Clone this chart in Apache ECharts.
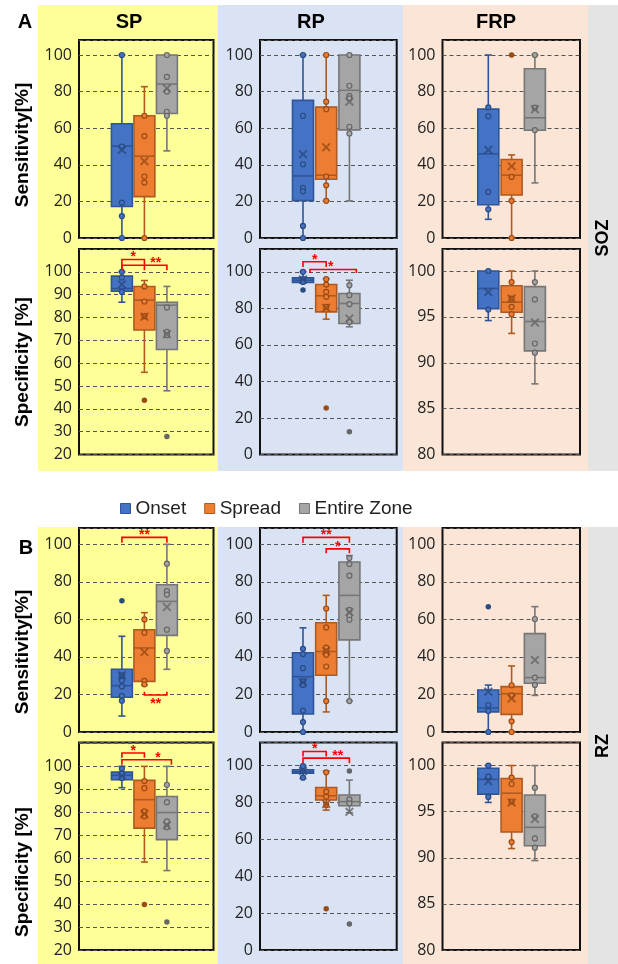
<!DOCTYPE html>
<html><head><meta charset="utf-8">
<script src="https://cdn.jsdelivr.net/npm/echarts@6/dist/echarts.min.js"></script>
<style>html,body{margin:0;padding:0;background:#fff}#c{width:618px;height:964px}</style>
</head><body><div id="c"></div>
<script>
// ---------- DATA ----------
const groups = ['Onset', 'Spread', 'Entire Zone'];
// box arrays: per group [lower whisker, Q1, median, Q3, upper whisker]
// SOZ - SP
const sozSpSensBox = [[0,17.2,50.2,62.4,100],[0,22.6,44.7,66.8,82.7],[47.6,68,84.1,100,100]];
const sozSpSensMean = [48.2,42,81.8];
const sozSpSensPts = [[100,50,19.3,12,0],[66.8,55.7,33.6,30.3,0],[100,88,80,69,66.8]];
const sozSpSensOut = [[],[],[]];
const sozSpSpecBox = [[86.7,91.5,92.7,98.1,100],[56,74.5,87.6,93.6,96.2],[47.9,66,85.4,86.7,93.6]];
const sozSpSpecMean = [94.5,80.3,72.7];
const sozSpSpecPts = [[100,97.5,91.2],[93.6,87,80.6],[84.4,73.7,72.3]];
const sozSpSpecOut = [[],[43.8],[27.9]];
// SOZ - RP
const sozRpSensBox = [[0,20.4,33.9,75.2,100],[20.3,32.1,34.3,71.5,100],[20.3,59.1,80.7,100,100]];
const sozRpSensMean = [45.8,49.6,74.5];
const sozRpSensPts = [[100,66.8,40.3,27.4,25.5,6.6,0],[100,74.5,70.4,33.6,28.8,20.3],[100,83.2,77.7,76.3,60.8,57.1]];
const sozRpSensOut = [[],[],[]];
const sozRpSpecBox = [[94,94.2,95.4,96.7,100],[74.1,78.1,86.9,93.1,96.2],[69.9,71.7,82.7,88.1,95.4]];
const sozRpSpecMean = [95.8,80.3,74.5];
const sozRpSpecPts = [[100,96,94.5],[96,93,89,86.3,80.8],[92.7,87.2,82.3,72.6]];
const sozRpSpecOut = [[90],[25.5],[12.4]];
// SOZ - FRP
const sozFrpSensBox = [[10.2,18.2,46,70.4,100],[0,23.5,34.3,42.9,45.4],[30.1,58.9,65.7,92.5,100]];
const sozFrpSensMean = [48.2,39.2,70.3];
const sozFrpSensPts = [[71.4,66.6,25.2,15.7],[33.4,20.3,0],[100,71.2,59]];
const sozFrpSensOut = [[],[100],[]];
const sozFrpSpecBox = [[94.6,95.9,98.1,100,100],[93.2,95.5,96.6,98.4,100],[87.7,91.3,94.5,98.3,100]];
const sozFrpSpecMean = [97.7,97,94.4];
const sozFrpSpecPts = [[100,95.8],[98.8,97,96.1,95.3],[98.8,96.9,92.1,91.1]];
const sozFrpSpecOut = [[],[],[]];
// RZ - SP
const rzSpSensBox = [[8.5,18.5,24.7,33.4,51],[24.9,27,44.8,54.5,63.6],[33.4,51.5,69.6,78.5,100]];
const rzSpSensMean = [30.2,42.6,66.6];
const rzSpSensPts = [[30.2,27.4,24.3,19.2,16.7],[60,52.9,27.2,25.4],[89.7,75.1,73.2,54.5,43.2]];
const rzSpSensOut = [[70],[],[]];
const rzSpSpecBox = [[90.7,94.2,96.1,97.5,100],[58.3,73.1,85.5,93.9,100],[54.6,68.1,79.9,86.9,100]];
const rzSpSpecMean = [95.8,79.3,74.3];
const rzSpSpecPts = [[99,96.8,94.9],[93.6,90.5,80.4,78.3],[92,84.4,76,73.5]];
const rzSpSpecOut = [[],[39.8],[32.2]];
// RZ - RP
const rzRpSensBox = [[0,9.6,29.5,42.2,55.5],[10.7,30.2,42.9,58.2,72.8],[16.5,49.1,72.8,90.6,94]];
const rzRpSensMean = [26.5,43.2,63.9];
const rzRpSensPts = [[44.3,41.5,34,27,25.1,11.4,5.3,0],[65.8,55.7,45,42.9,41.1,34.9,16.5],[92.7,89.5,83.3,65.1,61.9,59.8,16.5]];
const rzRpSensOut = [[],[],[]];
const rzRpSpecBox = [[93.1,96,96.7,97.8,100],[75.9,81.4,83.7,88.2,97.1],[74.5,78.3,80.5,84.1,92.2]];
const rzRpSpecMean = [97.1,79.2,75];
const rzRpSpecPts = [[99.8,97,93.5],[96.4,85.9,83.2,78.7],[81.7,79.6]];
const rzRpSpecOut = [[],[22.4],[97.1,14.1]];
// RZ - FRP
const rzFrpSensBox = [[0,10.7,12.8,22.4,25],[0,9.4,20.4,24.2,35.2],[19.5,26,29,52.4,66.8]];
const rzFrpSensMean = [21.5,17.9,38.4];
const rzFrpSensPts = [[14.4,11.2,0],[24.9,19.5,5.7,0],[60.2,29,25.1]];
const rzFrpSensOut = [[66.8],[],[]];
const rzFrpSpecBox = [[96,96.9,98.5,99.7,100],[91,92.8,97,98.6,100],[89.7,91.3,93.3,96.8,100]];
const rzFrpSpecMean = [98.3,96,94.2];
const rzFrpSpecPts = [[100,98.8,96.6],[98.7,98,96.1,91.7],[97.6,94.5,92.1,91.1]];
const rzFrpSpecOut = [[],[],[]];

// significance brackets (group index from/to, bar level, leg end level, label, label position)
const sozSpSpecSig = [{from:0,to:1,y:105.4,leg:100.7,label:'*',at:0.5},{from:0,to:2,y:102.9,leg:100.7,label:'**',at:1.5}];
const sozRpSpecSig = [{from:0,to:1,y:105.5,leg:102.7,label:'*',at:0.5},{from:0.3,to:2.3,y:101.3,leg:99.3,label:'*',at:1.2}];
const rzSpSensSig = [{from:0,to:2,y:103.7,leg:100.9,label:'**',at:1},{from:1,to:2,y:19.7,leg:21.4,label:'**',at:1.5}];
const rzRpSensSig = [{from:0,to:2,y:103.7,leg:100.9,label:'**',at:1},{from:1,to:2,y:97.6,leg:95.2,label:'*',at:1.5}];
const rzSpSpecSig = [{from:0,to:1,y:105.8,leg:103.8,label:'*',at:0.5},{from:0,to:2.2,y:102.9,leg:100.7,label:'*',at:1.6}];
const rzRpSpecSig = [{from:0,to:1,y:107.7,leg:105,label:'*',at:0.5},{from:0,to:2,y:104.1,leg:101.4,label:'**',at:1.5}];

// ---------- STYLE / LAYOUT ----------
const FILL = ['#4472C4', '#ED7D31', '#A5A5A5'];
const EDGE = ['#2F5597', '#AE5A21', '#767676'];
const PT = ['#2A4A80', '#9A4A15', '#666666'];
const COLS = [
  {frameL:79, frameW:134.5, boxL:110.65, boxW:67.5},
  {frameL:260, frameW:136.7, boxL:291.4, boxW:69.6},
  {frameL:442.5, frameW:137.5, boxL:476.65, boxW:69.9}
];
const ROWS = [{top:40, h:198}, {top:249, h:205.5}, {top:528, h:204}, {top:742.5, h:207.5}];
const AX = {
  s0: {min:0, max:108.2, interval:20},
  s2: {min:0, max:108.7, interval:20},
  spA: {min:20, max:110, interval:10},
  spB: {min:20, max:110.4, interval:10},
  rpA: {min:0, max:112.5, interval:20},
  rpB: {min:0, max:112.6, interval:20},
  frA: {min:80, max:102.4, interval:5},
  frB: {min:80, max:102.5, interval:5}
};

const panels = [
  {row:0,col:0,ax:AX.s0,box:sozSpSensBox,mean:sozSpSensMean,pts:sozSpSensPts,out:sozSpSensOut},
  {row:0,col:1,ax:AX.s0,box:sozRpSensBox,mean:sozRpSensMean,pts:sozRpSensPts,out:sozRpSensOut},
  {row:0,col:2,ax:AX.s0,box:sozFrpSensBox,mean:sozFrpSensMean,pts:sozFrpSensPts,out:sozFrpSensOut},
  {row:1,col:0,ax:AX.spA,box:sozSpSpecBox,mean:sozSpSpecMean,pts:sozSpSpecPts,out:sozSpSpecOut,sig:sozSpSpecSig},
  {row:1,col:1,ax:AX.rpA,box:sozRpSpecBox,mean:sozRpSpecMean,pts:sozRpSpecPts,out:sozRpSpecOut,sig:sozRpSpecSig},
  {row:1,col:2,ax:AX.frA,box:sozFrpSpecBox,mean:sozFrpSpecMean,pts:sozFrpSpecPts,out:sozFrpSpecOut},
  {row:2,col:0,ax:AX.s2,box:rzSpSensBox,mean:rzSpSensMean,pts:rzSpSensPts,out:rzSpSensOut,sig:rzSpSensSig},
  {row:2,col:1,ax:AX.s2,box:rzRpSensBox,mean:rzRpSensMean,pts:rzRpSensPts,out:rzRpSensOut,sig:rzRpSensSig},
  {row:2,col:2,ax:AX.s2,box:rzFrpSensBox,mean:rzFrpSensMean,pts:rzFrpSensPts,out:rzFrpSensOut},
  {row:3,col:0,ax:AX.spB,box:rzSpSpecBox,mean:rzSpSpecMean,pts:rzSpSpecPts,out:rzSpSpecOut,sig:rzSpSpecSig},
  {row:3,col:1,ax:AX.rpB,box:rzRpSpecBox,mean:rzRpSpecMean,pts:rzRpSpecPts,out:rzRpSpecOut,sig:rzRpSpecSig},
  {row:3,col:2,ax:AX.frB,box:rzFrpSpecBox,mean:rzFrpSpecMean,pts:rzFrpSpecPts,out:rzFrpSpecOut}
];

const XMARK = 'path://M1.5,0 L5,3.5 L8.5,0 L10,1.5 L6.5,5 L10,8.5 L8.5,10 L5,6.5 L1.5,10 L0,8.5 L3.5,5 L0,1.5 Z';

function boxRender(params, api) {
  const i = api.value(0);
  const lo = api.coord([i, api.value(1)]);
  const q1 = api.coord([i, api.value(2)]);
  const md = api.coord([i, api.value(3)]);
  const q3 = api.coord([i, api.value(4)]);
  const hi = api.coord([i, api.value(5)]);
  const band = api.size([1, 0])[0];
  const bw = Math.min(21, band * 0.93);
  const cx = md[0];
  const cap = 3.5;
  const ls = {stroke: EDGE[i], lineWidth: 1.6};
  return {type:'group', children:[
    {type:'line', shape:{x1:cx,y1:hi[1],x2:cx,y2:q3[1]}, style:ls},
    {type:'line', shape:{x1:cx,y1:q1[1],x2:cx,y2:lo[1]}, style:ls},
    {type:'line', shape:{x1:cx-cap,y1:hi[1],x2:cx+cap,y2:hi[1]}, style:ls},
    {type:'line', shape:{x1:cx-cap,y1:lo[1],x2:cx+cap,y2:lo[1]}, style:ls},
    {type:'rect', shape:{x:cx-bw/2,y:q3[1],width:bw,height:q1[1]-q3[1]}, style:{fill:FILL[i], stroke:EDGE[i], lineWidth:1.6}},
    {type:'line', shape:{x1:cx-bw/2,y1:md[1],x2:cx+bw/2,y2:md[1]}, style:ls}
  ]};
}

function makeSigRender(list) {
  return function (params, api) {
    const b = list[params.dataIndex];
    const p0 = api.coord([0, b.y]);
    const p1 = api.coord([1, b.y]);
    const step = p1[0] - p0[0];
    const xa = p0[0] + b.from * step, xb = p0[0] + b.to * step;
    const yb = p0[1], yl = api.coord([0, b.leg])[1];
    const below = yl < yb;
    const tx = p0[0] + b.at * step;
    const ty = below ? yb + 9.5 : yb - 2;
    return {type:'group', children:[
      {type:'polyline', shape:{points:[[xa,yl],[xa,yb],[xb,yb],[xb,yl]]}, style:{stroke:'#FF0000', lineWidth:1.6, fill:null}},
      {type:'text', x:tx, y:ty, style:{text:b.label, fill:'#FF0000', font:'bold 14px "Liberation Sans"', align:'center', verticalAlign:'middle'}}
    ]};
  };
}

const option = {
  animation: false,
  grid: [], xAxis: [], yAxis: [], series: [],
  legend: {
    data: groups.map((g, i) => ({name: g, icon: 'rect', itemStyle: {color: FILL[i], borderColor: EDGE[i], borderWidth: 1}})),
    left: 115, top: 494, itemWidth: 10, itemHeight: 10, itemGap: 18, selectedMode: false,
    textStyle: {fontSize: 19, fontFamily: 'Liberation Sans', color: '#222'}
  },
  graphic: {elements: []}
};

panels.forEach((p) => {
  const c = COLS[p.col], r = ROWS[p.row], ax = p.ax;
  const gF = option.grid.length;
  option.grid.push({left:c.frameL, top:r.top, width:c.frameW, height:r.h, show:true, borderColor:'#111', borderWidth:2, backgroundColor:'transparent', containLabel:false, outerBoundsMode:'none'});
  option.grid.push({left:c.boxL, top:r.top, width:c.boxW, height:r.h, show:false, containLabel:false, outerBoundsMode:'none'});
  option.xAxis.push({gridIndex:gF, type:'category', data:[''], show:false});
  option.xAxis.push({gridIndex:gF+1, type:'category', data:groups, show:false, boundaryGap:true});
  option.yAxis.push({gridIndex:gF, type:'value', min:ax.min, max:ax.max, interval:ax.interval,
    axisLine:{show:false}, axisTick:{show:false},
    axisLabel:{margin:7, fontSize:16, color:'#222', fontFamily:'Open Sans', showMaxLabel:true,
      formatter: v => (v > 100.001 ? '' : String(Math.round(v)))},
    splitLine:{show:true, lineStyle:{type:[4,3], color:'#555', width:1}}});
  option.yAxis.push({gridIndex:gF+1, type:'value', min:ax.min, max:ax.max, show:false, splitLine:{show:false}});
  const xi = gF + 1, yi = gF + 1;
  option.series.push({type:'custom', name:'box', xAxisIndex:xi, yAxisIndex:yi, renderItem:boxRender,
    data:p.box.map((b, i) => [i].concat(b)), encode:{x:0, y:[1,2,3,4,5]}, z:2, silent:true});
  groups.forEach((g, i) => {
    option.series.push({type:'scatter', name:g, xAxisIndex:xi, yAxisIndex:yi, data:p.pts[i].map(v => [i, v]),
      symbol:'circle', symbolSize:5, itemStyle:{color:FILL[i], borderColor:PT[i], borderWidth:1.2, opacity:1}, z:3, silent:true});
    if (p.out[i].length) {
      option.series.push({type:'scatter', name:g, xAxisIndex:xi, yAxisIndex:yi, data:p.out[i].map(v => [i, v]),
        symbol:'circle', symbolSize:5.5, itemStyle:{color:PT[i], opacity:1}, z:3, silent:true});
    }
  });
  option.series.push({type:'scatter', name:'mean', xAxisIndex:xi, yAxisIndex:yi,
    data:p.mean.map((v, i) => ({value:[i, v], itemStyle:{color:PT[i]}})),
    symbol:XMARK, symbolSize:9, z:4, silent:true});
  if (p.sig) {
    option.series.push({type:'custom', name:'sig', xAxisIndex:xi, yAxisIndex:yi, renderItem:makeSigRender(p.sig),
      data:p.sig.map(b => [0, b.y]), encode:{x:0, y:1}, z:5, silent:true, clip:false});
  }
});

// backgrounds and texts
const bgRows = [{y:5, h:466}, {y:527, h:437}];
const bgCols = [{x:38, w:180, c:'#FFFF99'}, {x:218, w:185, c:'#DAE3F3'}, {x:403, w:185, c:'#FBE5D6'}, {x:588, w:30, c:'#E4E4E4'}];
bgRows.forEach(r => bgCols.forEach(cl => option.graphic.elements.push(
  {type:'rect', silent:true, z:-100, shape:{x:cl.x, y:r.y, width:cl.w, height:r.h}, style:{fill:cl.c}})));
function txt(t, x, y, font, rot) {
  option.graphic.elements.push({type:'text', silent:true, z:10, x:x, y:y, rotation:rot || 0,
    style:{text:t, font:font, fill:'#000', align:'center', verticalAlign:'middle'}});
}
const BIG = 'bold 20px "Liberation Sans"';
const YT = 'bold 19px "Liberation Sans"';
txt('A', 25, 22, BIG); txt('B', 26, 548, BIG);
txt('SP', 129, 22, BIG); txt('RP', 311, 22, BIG); txt('FRP', 496, 22, BIG);
txt('SOZ', 603, 238, 'bold 18px "Liberation Sans"', Math.PI / 2);
txt('RZ', 603, 746, 'bold 18px "Liberation Sans"', Math.PI / 2);
txt('Sensitivity[%]', 23, 145, YT, Math.PI / 2);
txt('Specificity [%]', 23, 362, YT, Math.PI / 2);
txt('Sensitivity[%]', 23, 652, YT, Math.PI / 2);
txt('Specificity [%]', 23, 872, YT, Math.PI / 2);

const chart = echarts.init(document.getElementById('c'), null, {renderer:'canvas'});
chart.setOption(option);
</script></body></html>
